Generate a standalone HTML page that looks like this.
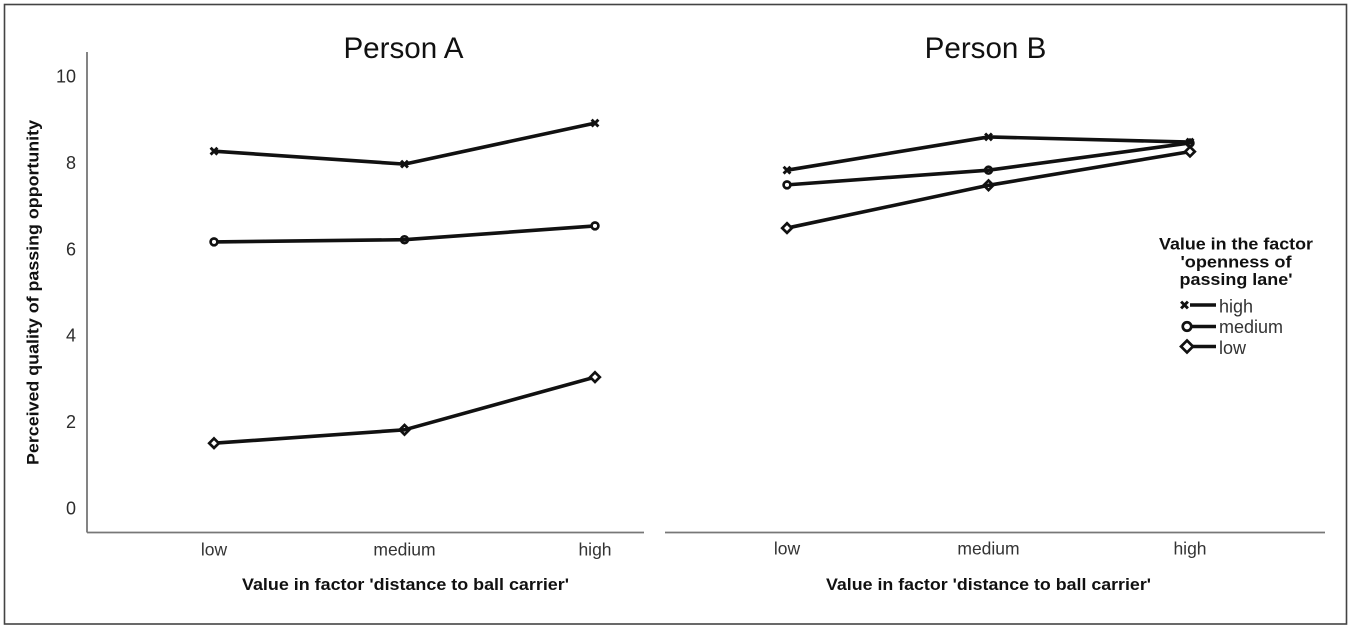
<!DOCTYPE html>
<html lang="en">
<head>
<meta charset="utf-8">
<title>Perceived quality of passing opportunity</title>
<style>
html,body{margin:0;padding:0;background:#fff;width:1353px;height:632px;overflow:hidden}
svg{display:block}
text{font-family:"Liberation Sans",Arial,sans-serif;fill:#1c1c1c}
.tick{font-size:18px;fill:#2c2c2c}
.cat{font-size:17.5px;fill:#333}
.ttl{font-size:29.6px;fill:#111}
.axt{font-size:16.5px;font-weight:bold;fill:#111}
.lgt{font-size:17px;font-weight:bold;fill:#111}
.lgi{font-size:18px;fill:#333}
</style>
</head>
<body>
<svg id="chart" xmlns="http://www.w3.org/2000/svg" width="1353" height="632" viewBox="0 0 1353 632">
  <rect x="4.5" y="4.5" width="1342" height="619.5" fill="#fff" stroke="#444" stroke-width="1.6"/>
  <line x1="87" y1="52" x2="87" y2="532.5" stroke="#777" stroke-width="1.8"/>
  <line x1="87" y1="532.5" x2="644" y2="532.5" stroke="#777" stroke-width="1.8"/>
  <line x1="665" y1="532.5" x2="1325" y2="532.5" stroke="#777" stroke-width="1.8"/>
  <text class="ttl" x="403.500" y="58" text-anchor="middle">Person A</text>
  <text class="ttl" x="985.500" y="58" text-anchor="middle">Person B</text>
  <text class="axt" transform="translate(38.5,292.500) rotate(-90)" text-anchor="middle" textLength="345" lengthAdjust="spacingAndGlyphs">Perceived quality of passing opportunity</text>
  <text class="axt" x="405.500" y="590" text-anchor="middle" textLength="327" lengthAdjust="spacingAndGlyphs">Value in factor 'distance to ball carrier'</text>
  <text class="axt" x="988.500" y="590" text-anchor="middle" textLength="325" lengthAdjust="spacingAndGlyphs">Value in factor 'distance to ball carrier'</text>
  <g>
    <text class="lgt" x="1236" y="249.500" text-anchor="middle" textLength="154" lengthAdjust="spacingAndGlyphs">Value in the factor</text>
    <text class="lgt" x="1236" y="267.500" text-anchor="middle" textLength="111" lengthAdjust="spacingAndGlyphs">'openness of</text>
    <text class="lgt" x="1236" y="285" text-anchor="middle" textLength="113" lengthAdjust="spacingAndGlyphs">passing lane'</text>
    <text class="lgi" x="1219" y="312.500">high</text>
    <text class="lgi" x="1219" y="333">medium</text>
    <text class="lgi" x="1219" y="354">low</text>
  </g>
  <g id="marks"></g>
</svg>
<script>
const categories = ['low', 'medium', 'high'];
const yTicks = [0, 2, 4, 6, 8, 10];
const seriesNames = ['high', 'medium', 'low'];
const personAHigh = [8.26, 7.96, 8.91];
const personAMedium = [6.16, 6.21, 6.53];
const personALow = [1.5, 1.81, 3.03];
const personBHigh = [7.82, 8.59, 8.47];
const personBMedium = [7.48, 7.82, 8.45];
const personBLow = [6.48, 7.47, 8.25];

const NS = 'http://www.w3.org/2000/svg';
const marks = document.getElementById('marks');
const yOf = v => 508 - v * 43.2;
const xA = i => 214 + i * 190.5;
const xB = i => 787 + i * 201.5;

function make(tag, attrs, parent) {
  const el = document.createElementNS(NS, tag);
  for (const k in attrs) el.setAttribute(k, attrs[k]);
  (parent || marks).appendChild(el);
  return el;
}

function drawMarker(kind, x, y, parent, fill, scale) {
  if (kind === 'high') {
    const s = 3.4 * scale;
    const m = make('path', {d: `M${x-s} ${y-s}L${x+s} ${y+s}M${x-s} ${y+s}L${x+s} ${y-s}`, fill: 'none', stroke: '#111', 'stroke-width': 2.9}, parent);
    
    
  } else if (kind === 'medium') {
    const m = make('circle', {cx: x, cy: y, r: 3.4 * scale, fill: fill, stroke: '#111', 'stroke-width': 2.7}, parent);
    
    
  } else {
    const s = 4.8 * scale;
    const m = make('path', {d: `M${x} ${y-s}L${x+s} ${y}L${x} ${y+s}L${x-s} ${y}Z`, fill: fill, stroke: '#111', 'stroke-width': 2.7}, parent);
    
    
  }
}

function drawSeries(values, kind, xOf, panel) {
  const g = make('g', {});
  
  
  const line = make('polyline', {
    points: values.map((v, i) => xOf(i) + ',' + yOf(v)).join(' '),
    fill: 'none', stroke: '#111', 'stroke-width': 3.6, 'stroke-linejoin': 'round'
  }, g);
  
  
  values.forEach((v, i) => {
    const through = i === 1 || (panel === 'person-b' && i === 2 && kind !== 'low');
    drawMarker(kind, xOf(i), yOf(v), g, through ? 'none' : '#fff', 1);
  });
}

yTicks.forEach(t => {
  const el = make('text', {class: 'tick', x: 76, y: yOf(t) + 6.5, 'text-anchor': 'end'});
  
  
  el.textContent = t;
});

categories.forEach((c, i) => {
  const a = make('text', {class: 'cat', x: xA(i), y: 555.5, 'text-anchor': 'middle'});
  
  
  a.textContent = c;
  const b = make('text', {class: 'cat', x: xB(i), y: 554.5, 'text-anchor': 'middle'});
  
  
  b.textContent = c;
});

[personALow, personAMedium, personAHigh].forEach((vals, i) => drawSeries(vals, seriesNames[2 - i], xA, 'person-a'));
[personBLow, personBMedium, personBHigh].forEach((vals, i) => drawSeries(vals, seriesNames[2 - i], xB, 'person-b'));

seriesNames.forEach((name, i) => {
  const y = [305, 326.5, 346.5][i];
  const key = make('line', {x1: 1190, y1: y, x2: 1216, y2: y, stroke: '#111', 'stroke-width': 3.6});
  
  
  drawMarker(name, name === 'high' ? 1184.5 : 1187, y, marks, '#fff', name === 'high' ? 1 : 1.25);
});
</script>
</body>
</html>
